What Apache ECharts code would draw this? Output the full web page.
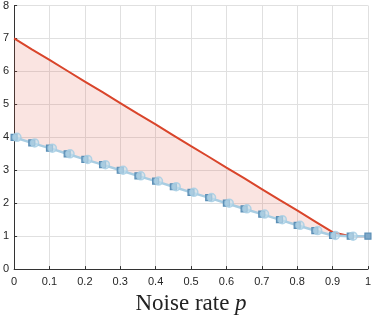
<!DOCTYPE html>
<html>
<head>
<meta charset="utf-8">
<script src="https://cdn.jsdelivr.net/npm/echarts@6/dist/echarts.min.js"></script>
<style>
  html, body { margin: 0; padding: 0; background: #fff; }
  #main { width: 374px; height: 320px; }
</style>
</head>
<body>
<div id="main"></div>
<script>
// noise rate p
var noiseRate = [0, 0.05, 0.1, 0.15, 0.2, 0.25, 0.3, 0.35, 0.4, 0.45, 0.5,
                 0.55, 0.6, 0.65, 0.7, 0.75, 0.8, 0.85, 0.9, 0.95, 1];
// upper bound (red)
var upperBound = [7, 6.67, 6.35, 6.02, 5.69, 5.37, 5.04, 4.71, 4.39, 4.06, 3.73,
                  3.41, 3.08, 2.76, 2.43, 2.10, 1.78, 1.45, 1.12, 1.0, 1.0];
// measured values (blue)
var measured = [4, 3.83, 3.67, 3.5, 3.33, 3.17, 3.0, 2.83, 2.67, 2.5, 2.33,
                2.17, 2.0, 1.83, 1.67, 1.5, 1.33, 1.17, 1.02, 1.0, 1.0];
// circle markers sit a little right of the squares
var circleRate = [0.008, 0.058, 0.108, 0.158, 0.208, 0.258, 0.308, 0.358, 0.408, 0.458, 0.508,
                  0.558, 0.608, 0.658, 0.708, 0.758, 0.808, 0.858, 0.908, 0.958];
var xTicks = [0, 0.1, 0.2, 0.3, 0.4, 0.5, 0.6, 0.7, 0.8, 0.9, 1];
var yTicks = [0, 1, 2, 3, 4, 5, 6, 7, 8];

function pairs(xs, ys) {
    return xs.map(function (x, i) { return [x, ys[i]]; });
}

// shaded band between the two curves, one polygon
function renderBand(params, api) {
    var pts = [];
    noiseRate.forEach(function (x, i) { pts.push(api.coord([x, upperBound[i]])); });
    for (var i = noiseRate.length - 1; i >= 0; i--) {
        pts.push(api.coord([noiseRate[i], measured[i]]));
    }
    return {
        type: 'polygon',
        shape: { points: pts },
        style: { fill: 'rgba(222,90,70,0.16)' },
        silent: true
    };
}

var myChart = echarts.init(document.getElementById('main'));
myChart.setOption({
    animation: false,
    grid: { left: 14, right: 6, top: 5, bottom: 44 },
    xAxis: {
        type: 'value',
        min: xTicks[0],
        max: xTicks[xTicks.length - 1],
        interval: 0.1,
        name: '{t|Noise rate }{p|p}',
        nameLocation: 'middle',
        nameGap: 22,
        nameTextStyle: {
            rich: {
                t: { fontFamily: 'Liberation Serif', fontSize: 23, color: '#222' },
                p: { fontFamily: 'Liberation Serif', fontStyle: 'italic', fontSize: 23, color: '#222' }
            }
        },
        axisLine: { lineStyle: { color: '#333', width: 1 } },
        axisTick: { inside: true, length: 3, lineStyle: { color: '#333' } },
        axisLabel: {
            margin: 7, fontSize: 11, color: '#262626', fontFamily: 'Liberation Sans',
            formatter: function (v) { return String(Math.round(v * 10) / 10); }
        },
        splitLine: { show: true, lineStyle: { color: '#e0e0e0', width: 1 } }
    },
    yAxis: {
        type: 'value',
        min: yTicks[0],
        max: yTicks[yTicks.length - 1],
        interval: 1,
        axisLine: { show: true, lineStyle: { color: '#333', width: 1 } },
        axisTick: { show: true, inside: true, length: 3, lineStyle: { color: '#333' } },
        axisLabel: { margin: 5, fontSize: 11, color: '#262626', fontFamily: 'Liberation Sans' },
        splitLine: { show: true, lineStyle: { color: '#e0e0e0', width: 1 } }
    },
    series: [
        {
            type: 'custom',
            renderItem: renderBand,
            data: [[0, 0]],
            silent: true,
            z: 1
        },
        {
            type: 'line', symbol: 'none',
            data: pairs(noiseRate, upperBound),
            lineStyle: { color: '#d9452b', width: 2 },
            z: 2
        },
        {
            type: 'line', symbol: 'rect', symbolSize: 6,
            data: pairs(noiseRate, measured),
            lineStyle: { color: '#a9cde2', width: 2.5 },
            itemStyle: { color: '#7ea8c8', borderColor: '#5b8fb6', borderWidth: 1.2 },
            z: 3
        },
        {
            type: 'scatter', symbol: 'circle', symbolSize: 8,
            data: pairs(circleRate, measured),
            itemStyle: { color: 'rgba(196,224,238,0.8)', borderColor: '#a5cde3', borderWidth: 1.5 },
            z: 4
        }
    ]
});
</script>
</body>
</html>
